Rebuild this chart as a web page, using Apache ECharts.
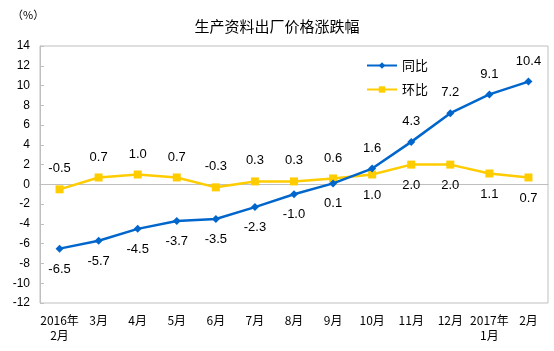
<!DOCTYPE html>
<html><head><meta charset="utf-8">
<script src="https://cdn.jsdelivr.net/npm/echarts@6/dist/echarts.min.js"></script>
<style>html,body{margin:0;padding:0;background:#fff}#c{width:554px;height:351px}</style>
</head><body><div id="c"></div>
<script>
const categories = ['2016年\n2月','3月','4月','5月','6月','7月','8月','9月','10月','11月','12月','2017年\n1月','2月'];
const yoy = [-6.5,-5.7,-4.5,-3.7,-3.5,-2.3,-1.0,0.1,1.6,4.3,7.2,9.1,10.4];
const mom = [-0.5,0.7,1.0,0.7,-0.3,0.3,0.3,0.6,1.0,2.0,2.0,1.1,0.7];
const yoyLabelPos = ['bottom','bottom','bottom','bottom','bottom','bottom','bottom','bottom','top','top','top','top','top'];
const momLabelPos = ['top','top','top','top','top','top','top','top','bottom','bottom','bottom','bottom','bottom'];
const yTicks = {min:-12,max:14,interval:2};

const chart = echarts.init(document.getElementById('c'));
const lblFont = {fontFamily:'Liberation Sans, Arial', fontSize:13, color:'#000'};
function mk(vals, pos){
  return vals.map((v,i)=>({value:v,label:{position:pos[i]}}));
}
chart.setOption({
  animation:false,
  title:{text:'生产资料出厂价格涨跌幅',left:'center',top:14,textStyle:{fontFamily:'Noto Sans CJK SC',fontSize:15,fontWeight:'normal',color:'#000'}},
  graphic:[{type:'text',left:12,top:9,style:{text:'（%）',font:'11px "Noto Sans CJK SC"',fill:'#000'}}],
  legend:{orient:'vertical',left:361,top:54,itemWidth:30,itemHeight:8,itemGap:11,
    textStyle:{fontFamily:'Noto Sans CJK SC',fontSize:13,color:'#000'},
    data:['同比','环比']},
  grid:{left:40,right:6,top:46,bottom:48,show:true,borderColor:'#BFBFBF',borderWidth:1},
  xAxis:{type:'category',data:categories,boundaryGap:true,
    axisLine:{lineStyle:{color:'#BFBFBF'}},
    axisTick:{inside:true,length:4,lineStyle:{color:'#BFBFBF'}},
    axisLabel:{interval:0,margin:10,fontFamily:'Noto Sans CJK SC',fontSize:12,color:'#000',lineHeight:15}},
  yAxis:{type:'value',min:yTicks.min,max:yTicks.max,interval:yTicks.interval,
    splitLine:{show:false},
    axisLine:{show:true,lineStyle:{color:'#BFBFBF'}},
    axisTick:{show:true,inside:true,length:4,lineStyle:{color:'#BFBFBF'}},
    axisLabel:{margin:10,fontFamily:'Liberation Sans, Arial',fontSize:12,color:'#000'}},
  series:[
    {name:'同比',type:'line',data:mk(yoy,yoyLabelPos),symbol:'diamond',symbolSize:8,
      itemStyle:{color:'#0066CC'},lineStyle:{color:'#0066CC',width:2.5},
      label:Object.assign({show:true,distance:10,formatter:p=>p.value.toFixed(1)},lblFont),z:3},
    {name:'环比',type:'line',data:mk(mom,momLabelPos),symbol:'rect',symbolSize:8,
      itemStyle:{color:'#FFCC00'},lineStyle:{color:'#FFCC00',width:2.5},
      label:Object.assign({show:true,distance:10,formatter:p=>p.value.toFixed(1)},lblFont),z:2}
  ]
});
</script></body></html>
